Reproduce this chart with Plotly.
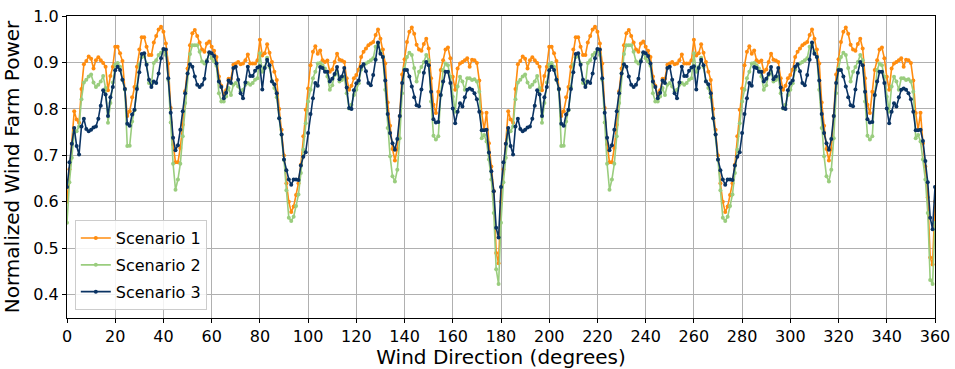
import plotly.graph_objects as go

# Wind direction in degrees, one sample per degree
directions = list(range(361))

# Normalized wind farm power per scenario (0..359 deg, then 360 deg closes the rose)
scenario_1 = [
    0.600, 0.670, 0.725, 0.795, 0.777, 0.770, 0.843, 0.896, 0.903, 0.913,
    0.908, 0.887, 0.905, 0.911, 0.905, 0.899, 0.891, 0.840, 0.871, 0.891,
    0.934, 0.934, 0.920, 0.903, 0.843, 0.785, 0.795, 0.825, 0.847, 0.891,
    0.928, 0.954, 0.954, 0.934, 0.916, 0.916, 0.943, 0.957, 0.971, 0.977,
    0.966, 0.941, 0.898, 0.802, 0.724, 0.685, 0.685, 0.716, 0.766, 0.838,
    0.887, 0.937, 0.963, 0.970, 0.957, 0.943, 0.928, 0.923, 0.941, 0.945,
    0.934, 0.925, 0.912, 0.870, 0.850, 0.830, 0.840, 0.865, 0.865, 0.895,
    0.898, 0.901, 0.896, 0.898, 0.905, 0.917, 0.898, 0.898, 0.898, 0.905,
    0.949, 0.915, 0.920, 0.939, 0.921, 0.901, 0.880, 0.862, 0.800, 0.755,
    0.700, 0.640, 0.600, 0.578, 0.590, 0.615, 0.640, 0.680, 0.741, 0.798,
    0.844, 0.894, 0.923, 0.935, 0.919, 0.926, 0.905, 0.901, 0.904, 0.880,
    0.885, 0.901, 0.919, 0.906, 0.904, 0.901, 0.866, 0.841, 0.850, 0.866,
    0.873, 0.885, 0.912, 0.923, 0.930, 0.937, 0.941, 0.944, 0.959, 0.971,
    0.951, 0.928, 0.898, 0.814, 0.764, 0.714, 0.689, 0.714, 0.785, 0.874,
    0.907, 0.944, 0.966, 0.975, 0.962, 0.938, 0.928, 0.925, 0.940, 0.951,
    0.930, 0.866, 0.809, 0.791, 0.837, 0.884, 0.905, 0.928, 0.932, 0.909,
    0.869, 0.841, 0.887, 0.898, 0.901, 0.905, 0.909, 0.891, 0.906, 0.905,
    0.899, 0.861, 0.791, 0.755, 0.792, 0.726, 0.676, 0.623, 0.490, 0.468,
    0.600, 0.670, 0.725, 0.795, 0.777, 0.770, 0.843, 0.896, 0.903, 0.913,
    0.908, 0.887, 0.905, 0.911, 0.905, 0.899, 0.891, 0.840, 0.871, 0.891,
    0.934, 0.934, 0.920, 0.903, 0.843, 0.785, 0.795, 0.825, 0.847, 0.891,
    0.928, 0.954, 0.954, 0.934, 0.916, 0.916, 0.943, 0.957, 0.971, 0.977,
    0.966, 0.941, 0.898, 0.802, 0.724, 0.685, 0.685, 0.716, 0.766, 0.838,
    0.887, 0.937, 0.963, 0.970, 0.957, 0.943, 0.928, 0.923, 0.941, 0.945,
    0.934, 0.925, 0.912, 0.870, 0.850, 0.830, 0.840, 0.865, 0.865, 0.895,
    0.898, 0.901, 0.896, 0.898, 0.905, 0.917, 0.898, 0.898, 0.898, 0.905,
    0.949, 0.915, 0.920, 0.939, 0.921, 0.901, 0.880, 0.862, 0.800, 0.755,
    0.700, 0.640, 0.600, 0.578, 0.590, 0.615, 0.640, 0.680, 0.741, 0.798,
    0.844, 0.894, 0.923, 0.935, 0.919, 0.926, 0.905, 0.901, 0.904, 0.880,
    0.885, 0.901, 0.919, 0.906, 0.904, 0.901, 0.866, 0.841, 0.850, 0.866,
    0.873, 0.885, 0.912, 0.923, 0.930, 0.937, 0.941, 0.944, 0.959, 0.971,
    0.951, 0.928, 0.898, 0.814, 0.764, 0.714, 0.689, 0.714, 0.785, 0.874,
    0.907, 0.944, 0.966, 0.975, 0.962, 0.938, 0.928, 0.925, 0.940, 0.951,
    0.930, 0.866, 0.809, 0.791, 0.837, 0.884, 0.905, 0.928, 0.932, 0.909,
    0.869, 0.841, 0.887, 0.898, 0.901, 0.905, 0.909, 0.891, 0.906, 0.905,
    0.899, 0.861, 0.791, 0.755, 0.792, 0.726, 0.676, 0.610, 0.480, 0.465,
    0.600,
]

scenario_2 = [
    0.555, 0.642, 0.695, 0.750, 0.752, 0.762, 0.821, 0.857, 0.863, 0.870,
    0.874, 0.857, 0.847, 0.852, 0.859, 0.871, 0.845, 0.770, 0.813, 0.857,
    0.895, 0.899, 0.891, 0.863, 0.841, 0.720, 0.721, 0.773, 0.797, 0.847,
    0.895, 0.911, 0.914, 0.898, 0.856, 0.852, 0.899, 0.905, 0.916, 0.921,
    0.928, 0.916, 0.863, 0.771, 0.682, 0.626, 0.648, 0.682, 0.741, 0.813,
    0.876, 0.918, 0.937, 0.937, 0.937, 0.923, 0.902, 0.898, 0.905, 0.920,
    0.909, 0.902, 0.893, 0.834, 0.816, 0.816, 0.827, 0.845, 0.830, 0.852,
    0.856, 0.848, 0.838, 0.841, 0.852, 0.856, 0.852, 0.856, 0.863, 0.866,
    0.920, 0.880, 0.890, 0.910, 0.890, 0.860, 0.845, 0.825, 0.780, 0.745,
    0.690, 0.625, 0.566, 0.559, 0.568, 0.591, 0.616, 0.662, 0.712, 0.769,
    0.816, 0.841, 0.866, 0.880, 0.898, 0.899, 0.894, 0.887, 0.870, 0.841,
    0.851, 0.873, 0.880, 0.859, 0.862, 0.869, 0.834, 0.801, 0.809, 0.830,
    0.841, 0.855, 0.885, 0.894, 0.898, 0.901, 0.905, 0.909, 0.934, 0.941,
    0.923, 0.912, 0.841, 0.759, 0.698, 0.655, 0.644, 0.669, 0.737, 0.834,
    0.887, 0.912, 0.921, 0.916, 0.888, 0.859, 0.880, 0.890, 0.901, 0.916,
    0.905, 0.816, 0.742, 0.734, 0.741, 0.830, 0.884, 0.898, 0.894, 0.869,
    0.826, 0.794, 0.848, 0.869, 0.859, 0.841, 0.866, 0.866, 0.862, 0.864,
    0.859, 0.837, 0.737, 0.744, 0.730, 0.691, 0.648, 0.576, 0.455, 0.423,
    0.555, 0.642, 0.695, 0.750, 0.752, 0.762, 0.821, 0.857, 0.863, 0.870,
    0.874, 0.857, 0.847, 0.852, 0.859, 0.871, 0.845, 0.770, 0.813, 0.857,
    0.895, 0.899, 0.891, 0.863, 0.841, 0.720, 0.721, 0.773, 0.797, 0.847,
    0.895, 0.911, 0.914, 0.898, 0.856, 0.852, 0.899, 0.905, 0.916, 0.921,
    0.928, 0.916, 0.863, 0.771, 0.682, 0.626, 0.648, 0.682, 0.741, 0.813,
    0.876, 0.918, 0.937, 0.937, 0.937, 0.923, 0.902, 0.898, 0.905, 0.920,
    0.909, 0.902, 0.893, 0.834, 0.816, 0.816, 0.827, 0.845, 0.830, 0.852,
    0.856, 0.848, 0.838, 0.841, 0.852, 0.856, 0.852, 0.856, 0.863, 0.866,
    0.920, 0.880, 0.890, 0.910, 0.890, 0.860, 0.845, 0.825, 0.780, 0.745,
    0.690, 0.625, 0.566, 0.559, 0.568, 0.591, 0.616, 0.662, 0.712, 0.769,
    0.816, 0.841, 0.866, 0.880, 0.898, 0.899, 0.894, 0.887, 0.870, 0.841,
    0.851, 0.873, 0.880, 0.859, 0.862, 0.869, 0.834, 0.801, 0.809, 0.830,
    0.841, 0.855, 0.885, 0.894, 0.898, 0.901, 0.905, 0.909, 0.934, 0.941,
    0.923, 0.912, 0.841, 0.759, 0.698, 0.655, 0.644, 0.669, 0.737, 0.834,
    0.887, 0.912, 0.921, 0.916, 0.888, 0.859, 0.880, 0.890, 0.901, 0.916,
    0.905, 0.816, 0.742, 0.734, 0.741, 0.830, 0.884, 0.898, 0.894, 0.869,
    0.826, 0.794, 0.848, 0.869, 0.859, 0.841, 0.866, 0.866, 0.862, 0.864,
    0.859, 0.837, 0.737, 0.744, 0.730, 0.691, 0.648, 0.576, 0.432, 0.423,
    0.555,
]

scenario_3 = [
    0.632, 0.685, 0.725, 0.759, 0.720, 0.702, 0.762, 0.779, 0.757, 0.752,
    0.755, 0.760, 0.762, 0.779, 0.807, 0.840, 0.831, 0.785, 0.825, 0.847,
    0.883, 0.891, 0.884, 0.863, 0.843, 0.768, 0.764, 0.788, 0.798, 0.843,
    0.879, 0.918, 0.920, 0.895, 0.863, 0.847, 0.859, 0.856, 0.876, 0.909,
    0.929, 0.928, 0.866, 0.792, 0.738, 0.711, 0.722, 0.755, 0.795, 0.834,
    0.876, 0.896, 0.891, 0.870, 0.852, 0.847, 0.852, 0.865, 0.902, 0.922,
    0.920, 0.914, 0.898, 0.859, 0.847, 0.823, 0.835, 0.861, 0.856, 0.888,
    0.891, 0.863, 0.834, 0.823, 0.857, 0.891, 0.871, 0.871, 0.882, 0.889,
    0.892, 0.842, 0.888, 0.906, 0.894, 0.859, 0.853, 0.834, 0.780, 0.745,
    0.691, 0.668, 0.648, 0.637, 0.648, 0.648, 0.647, 0.678, 0.697, 0.707,
    0.748, 0.789, 0.823, 0.856, 0.850, 0.890, 0.888, 0.880, 0.880, 0.859,
    0.865, 0.875, 0.890, 0.864, 0.870, 0.888, 0.846, 0.802, 0.800, 0.840,
    0.855, 0.861, 0.891, 0.896, 0.881, 0.856, 0.851, 0.873, 0.906, 0.943,
    0.919, 0.912, 0.861, 0.789, 0.748, 0.726, 0.712, 0.735, 0.785, 0.856,
    0.884, 0.884, 0.870, 0.848, 0.825, 0.808, 0.806, 0.842, 0.878, 0.901,
    0.894, 0.837, 0.778, 0.771, 0.772, 0.830, 0.859, 0.880, 0.880, 0.856,
    0.801, 0.769, 0.794, 0.812, 0.805, 0.825, 0.841, 0.844, 0.841, 0.834,
    0.821, 0.794, 0.754, 0.754, 0.755, 0.706, 0.666, 0.623, 0.544, 0.523,
    0.632, 0.685, 0.725, 0.759, 0.720, 0.702, 0.762, 0.779, 0.757, 0.752,
    0.755, 0.760, 0.762, 0.779, 0.807, 0.840, 0.831, 0.785, 0.825, 0.847,
    0.883, 0.891, 0.884, 0.863, 0.843, 0.768, 0.764, 0.788, 0.798, 0.843,
    0.879, 0.918, 0.920, 0.895, 0.863, 0.847, 0.859, 0.856, 0.876, 0.909,
    0.929, 0.928, 0.866, 0.792, 0.738, 0.711, 0.722, 0.755, 0.795, 0.834,
    0.876, 0.896, 0.891, 0.870, 0.852, 0.847, 0.852, 0.865, 0.902, 0.922,
    0.920, 0.914, 0.898, 0.859, 0.847, 0.823, 0.835, 0.861, 0.856, 0.888,
    0.891, 0.863, 0.834, 0.823, 0.857, 0.891, 0.871, 0.871, 0.882, 0.889,
    0.892, 0.842, 0.888, 0.906, 0.894, 0.859, 0.853, 0.834, 0.780, 0.745,
    0.691, 0.668, 0.648, 0.637, 0.648, 0.648, 0.647, 0.678, 0.697, 0.707,
    0.748, 0.789, 0.823, 0.856, 0.850, 0.890, 0.888, 0.880, 0.880, 0.859,
    0.865, 0.875, 0.890, 0.864, 0.870, 0.888, 0.846, 0.802, 0.800, 0.840,
    0.855, 0.861, 0.891, 0.896, 0.881, 0.856, 0.851, 0.873, 0.906, 0.943,
    0.919, 0.912, 0.861, 0.789, 0.748, 0.726, 0.712, 0.735, 0.785, 0.856,
    0.884, 0.884, 0.870, 0.848, 0.825, 0.808, 0.806, 0.842, 0.878, 0.901,
    0.894, 0.837, 0.778, 0.771, 0.772, 0.830, 0.859, 0.880, 0.880, 0.856,
    0.801, 0.769, 0.794, 0.812, 0.805, 0.825, 0.841, 0.844, 0.841, 0.834,
    0.821, 0.794, 0.754, 0.754, 0.755, 0.731, 0.688, 0.642, 0.566, 0.541,
    0.632,
]

series_names = ["Scenario 1", "Scenario 2", "Scenario 3"]
series_colors = ["#ff8c0f", "#9acd7e", "#0a3363"]
x_ticks = list(range(0, 361, 20))
y_ticks = [0.4, 0.5, 0.6, 0.7, 0.8, 0.9, 1.0]

FONT = "DejaVu Sans"

fig = go.Figure()
for i, (name, values, color) in enumerate(
    zip(series_names, [scenario_1, scenario_2, scenario_3], series_colors)
):
    fig.add_trace(
        go.Scatter(
            x=directions,
            y=values,
            mode="lines+markers",
            name=name,
            legendgroup=f"g{i}",
            line=dict(color=color, width=1.6),
            marker=dict(color=color, size=4),
        )
    )

axis_common = dict(
    showline=True,
    linecolor="black",
    linewidth=1,
    mirror=True,
    ticks="outside",
    ticklen=4,
    tickcolor="black",
    showgrid=True,
    gridcolor="#b0b0b0",
    gridwidth=0.8,
    zeroline=False,
    automargin=False,
    tickfont=dict(family=FONT, size=16, color="black"),
)

fig.update_xaxes(
    range=[0, 360],
    tickvals=x_ticks,
    ticktext=[str(t) for t in x_ticks],
    title=dict(text="Wind Direction (degrees)", font=dict(family=FONT, size=20, color="black")),
    **axis_common,
)
fig.update_yaxes(
    range=[0.35, 1.0],
    tickvals=y_ticks,
    ticktext=[f"{t:.1f}" for t in y_ticks],
    title=dict(text="Normalized Wind Farm Power", font=dict(family=FONT, size=20, color="black")),
    **axis_common,
)

fig.update_layout(
    width=955,
    height=369,
    margin=dict(l=67, r=20, t=16, b=51),
    paper_bgcolor="white",
    plot_bgcolor="white",
    font=dict(family=FONT, color="black"),
    legend=dict(
        x=0.009,
        y=0.026,
        xanchor="left",
        yanchor="bottom",
        bgcolor="rgba(255,255,255,0.85)",
        bordercolor="#cccccc",
        borderwidth=1,
        font=dict(family=FONT, size=16, color="black"),
        tracegroupgap=3,
    ),
    showlegend=True,
)

fig.write_html("out.html")
